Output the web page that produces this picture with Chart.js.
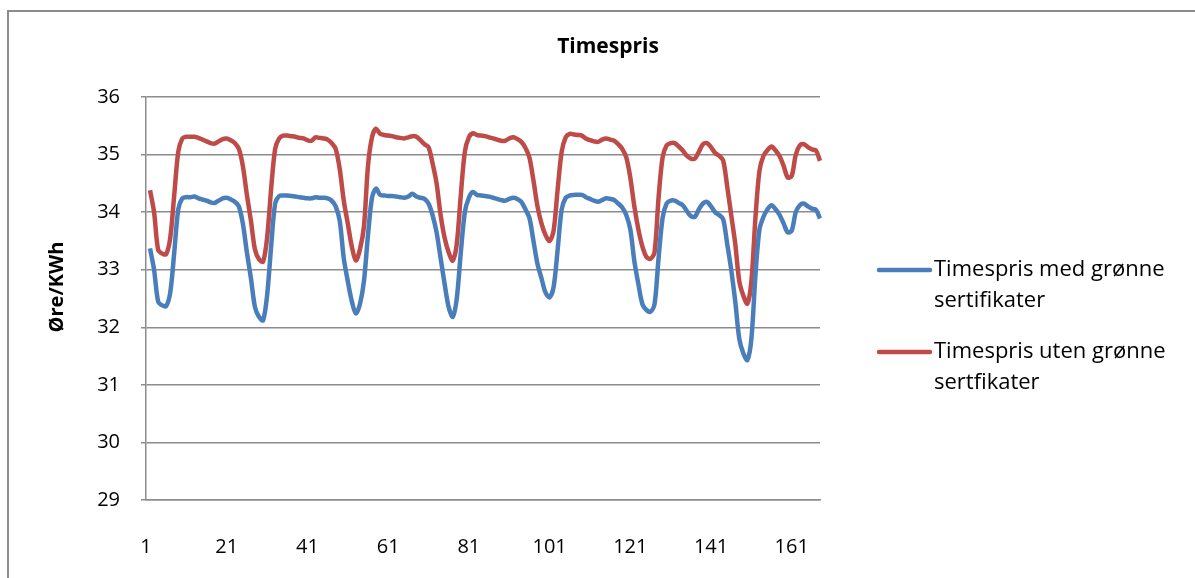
<!DOCTYPE html>
<html>
<head>
<meta charset="utf-8">
<title>Timespris</title>
<script src="https://cdn.jsdelivr.net/npm/chart.js"></script>
<style>
  html, body { margin: 0; padding: 0; background: #fff; overflow: hidden; }
  #wrap { position: relative; width: 1195px; height: 578px; }
</style>
</head>
<body>
<div id="wrap"><canvas id="timespris" width="1195" height="578"></canvas></div>
<script>
// timer i uka (1-168)
const timer = Array.from({ length: 168 }, (_, i) => String(i + 1));
const viste = ["1", "21", "41", "61", "81", "101", "121", "141", "161"];

// øre/kWh, time 1 mangler
const medSertifikater = [
  null, 33.37, 33.0, 32.45, 32.38, 32.37, 32.6, 33.3, 34.05, 34.24,
  34.26, 34.26, 34.27, 34.24, 34.22, 34.2, 34.17, 34.16, 34.2, 34.24,
  34.25, 34.22, 34.18, 34.1, 33.8, 33.3, 32.85, 32.35, 32.18, 32.12,
  32.55, 33.4, 34.15, 34.28, 34.29, 34.29, 34.28, 34.27, 34.26, 34.25,
  34.24, 34.24, 34.26, 34.25, 34.25, 34.24, 34.2, 34.1, 33.85, 33.2,
  32.8, 32.45, 32.24, 32.4, 32.8, 33.6, 34.25, 34.41, 34.3, 34.29,
  34.28, 34.28, 34.27, 34.26, 34.25, 34.27, 34.32, 34.27, 34.25, 34.23,
  34.15, 33.95, 33.65, 33.2, 32.75, 32.35, 32.18, 32.5, 33.3, 34.0,
  34.25, 34.35, 34.3, 34.29, 34.28, 34.27, 34.25, 34.23, 34.21, 34.2,
  34.23, 34.25, 34.23, 34.18, 34.05, 33.9, 33.5, 33.1, 32.85, 32.6,
  32.52, 32.7, 33.35, 34.05, 34.25, 34.29, 34.3, 34.3, 34.3, 34.26,
  34.23, 34.2, 34.18, 34.21, 34.24, 34.23, 34.21, 34.15, 34.08, 33.95,
  33.7, 33.15, 32.75, 32.4, 32.3, 32.27, 32.4, 33.2, 33.9, 34.15,
  34.2, 34.2, 34.16, 34.12, 34.02, 33.93, 33.92, 34.05, 34.15, 34.18,
  34.1, 34.0, 33.95, 33.88, 33.45, 33.0, 32.45, 31.8, 31.55, 31.43,
  31.8, 32.9, 33.7, 33.92, 34.05, 34.12, 34.05, 33.95, 33.8, 33.65,
  33.68, 34.0, 34.12, 34.15, 34.1, 34.06, 34.04, 33.89
];

const utenSertifikater = [
  null, 34.38, 34.0, 33.35, 33.28, 33.27, 33.55, 34.3, 35.05, 35.28,
  35.31, 35.31, 35.31, 35.29, 35.26, 35.23, 35.2, 35.19, 35.23, 35.27,
  35.28, 35.25, 35.2, 35.1, 34.8, 34.3, 33.85, 33.35, 33.18, 33.14,
  33.55, 34.4, 35.1, 35.28, 35.33, 35.33, 35.32, 35.31, 35.29, 35.28,
  35.25, 35.24, 35.3, 35.29, 35.28, 35.26, 35.2, 35.1, 34.75, 34.2,
  33.8, 33.4, 33.16, 33.35, 33.75, 34.8, 35.3, 35.45, 35.36, 35.34,
  35.33, 35.32, 35.3, 35.29, 35.28, 35.3, 35.32, 35.31, 35.25, 35.18,
  35.13, 34.85, 34.5, 33.95, 33.55, 33.3, 33.16, 33.45, 34.3, 35.05,
  35.3, 35.37, 35.34, 35.33, 35.32, 35.3, 35.28, 35.26, 35.24, 35.24,
  35.28, 35.3, 35.27, 35.22, 35.12, 34.95, 34.55, 34.1, 33.8, 33.6,
  33.5, 33.68, 34.4, 35.05, 35.3, 35.36, 35.35, 35.34, 35.33, 35.28,
  35.25, 35.23, 35.22, 35.26, 35.28, 35.26, 35.24, 35.18, 35.1, 34.95,
  34.6, 34.1, 33.7, 33.4, 33.22, 33.19, 33.3, 34.25, 34.95, 35.16,
  35.2, 35.2, 35.14, 35.07, 34.98, 34.93, 34.93, 35.05, 35.18, 35.2,
  35.13, 35.03, 34.98, 34.9, 34.45, 33.95, 33.45, 32.8, 32.55, 32.41,
  32.8, 33.9, 34.72, 34.98, 35.08, 35.14, 35.07, 34.97, 34.8, 34.6,
  34.63, 35.0, 35.16, 35.18, 35.13, 35.09, 35.07, 34.89
];

const serieNavn = [
  ["Timespris med grønne", "sertifikater"],
  ["Timespris uten grønne", "sertfikater"]
];
const farger = ["#4a7ebb", "#be4b48"];

const FONT = "'Open Sans', sans-serif";
const GRID = "#8c8c8c";

// ramme, tittel, aksetittel og forklaring tegnes for hånd
const pynt = {
  id: "pynt",
  afterDraw(chart) {
    const c = chart.ctx;
    c.save();
    c.strokeStyle = "#8c8c8c";
    c.lineWidth = 2;
    c.strokeRect(8, 11, 1300, 700);

    c.fillStyle = "#000";
    c.textAlign = "center";
    c.textBaseline = "middle";
    c.font = "bold 21px " + FONT;
    c.fillText("Timespris", 608, 47);

    c.save();
    c.translate(57, 287);
    c.rotate(-Math.PI / 2);
    c.font = "bold 20px " + FONT;
    c.fillText("Øre/KWh", 0, 0);
    c.restore();

    c.textAlign = "left";
    c.font = "22px " + FONT;
    chart.data.datasets.forEach((ds, i) => {
      const y = 270 + i * 82;
      c.strokeStyle = ds.borderColor;
      c.lineWidth = 4.5;
      c.lineCap = "round";
      c.beginPath();
      c.moveTo(879, y);
      c.lineTo(930, y);
      c.stroke();
      serieNavn[i].forEach((linje, j) => {
        c.fillText(linje, 934, y + j * 31);
      });
    });
    c.restore();
  }
};

new Chart(document.getElementById("timespris"), {
  type: "line",
  data: {
    labels: timer,
    datasets: [
      {
        label: serieNavn[0].join(" "),
        data: medSertifikater,
        borderColor: farger[0],
        borderWidth: 4.5,
        pointRadius: 0,
        tension: 0.3,
        fill: false,
      },
      {
        label: serieNavn[1].join(" "),
        data: utenSertifikater,
        borderColor: farger[1],
        borderWidth: 4.5,
        pointRadius: 0,
        tension: 0.3,
        fill: false,
      },
    ],
  },
  options: {
    responsive: false,
    animation: false,
    layout: { padding: { left: 0, top: 97, right: 375, bottom: 0 } },
    plugins: {
      legend: { display: false },
      title: { display: false },
      tooltip: { enabled: false },
    },
    scales: {
      x: {
        grid: { display: false, drawTicks: false },
        border: { display: true, color: GRID, width: 1.5 },
        afterFit(scale) { scale.height = 78; },
        ticks: {
          autoSkip: false,
          maxRotation: 0,
          padding: 35,
          color: "#000",
          font: { family: FONT, size: 20 },
          callback(value) {
            const lbl = this.getLabelForValue(value);
            return viste.includes(lbl) ? lbl : null;
          },
        },
      },
      y: {
        min: 29,
        max: 36,
        afterFit(scale) { scale.width = 146; },
        grid: { color: GRID, lineWidth: 1.5, tickLength: 5, tickColor: GRID },
        border: { display: true, color: GRID, width: 1.5 },
        ticks: {
          stepSize: 1,
          padding: 21,
          color: "#000",
          font: { family: FONT, size: 20 },
        },
      },
    },
  },
  plugins: [pynt],
});
</script>
</body>
</html>
